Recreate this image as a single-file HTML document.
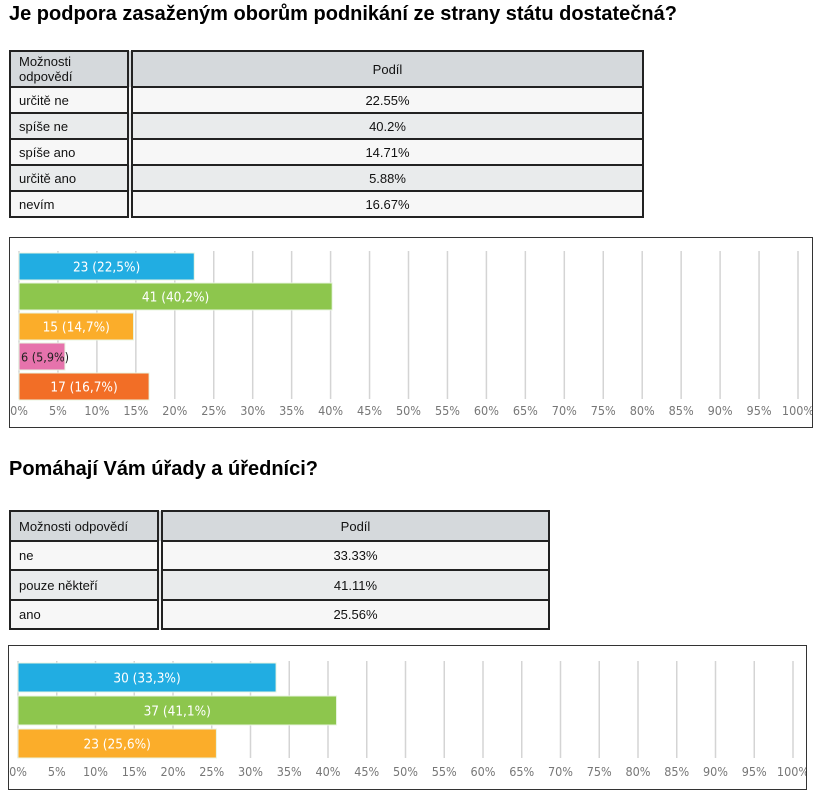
<!DOCTYPE html>
<html><head><meta charset="utf-8"><style>
body{margin:0;width:826px;height:805px;background:#fff;font-family:"Liberation Sans",sans-serif;position:relative;overflow:hidden}
.t{position:absolute;left:9px;font-weight:bold;font-size:20px;color:#000;margin:0}
table{position:absolute;border-collapse:collapse;font-size:13px;color:#111}
td{border:2px solid #222;padding:0 8px}
td.c{text-align:center}
tr.h td{background:#d5d9dc}
tr.a td{background:#f7f7f7}
tr.b td{background:#e9ebec}
td.f{border-right:6px double #222}
.box{position:absolute;border:1.5px solid #333;background:#fff}
svg text{font-family:"DejaVu Sans Condensed","DejaVu Sans",sans-serif}
</style></head><body>
<h1 class="t" style="top:3px">Je podpora zasaženým oborům podnikání ze strany státu dostatečná?</h1>
<table style="left:9px;top:50px;width:635px">
<tr class="h" style="height:36px"><td class="f" style="width:100px;line-height:15px">Možnosti<br>odpovědí</td><td class="c">Podíl</td></tr>
<tr class="a" style="height:26px"><td class="f">určitě ne</td><td class="c">22.55%</td></tr>
<tr class="b" style="height:26px"><td class="f">spíše ne</td><td class="c">40.2%</td></tr>
<tr class="a" style="height:26px"><td class="f">spíše ano</td><td class="c">14.71%</td></tr>
<tr class="b" style="height:26px"><td class="f">určitě ano</td><td class="c">5.88%</td></tr>
<tr class="a" style="height:26px"><td class="f">nevím</td><td class="c">16.67%</td></tr>
</table>
<div class="box" style="left:9px;top:237px;width:802px;height:189px"><svg id="c1" width="802" height="189"></svg></div>
<h1 class="t" style="top:458px">Pomáhají Vám úřady a úředníci?</h1>
<table style="left:9px;top:510px;width:541px">
<tr class="h" style="height:30px"><td class="f" style="width:130px">Možnosti odpovědí</td><td class="c">Podíl</td></tr>
<tr class="a" style="height:29px"><td class="f">ne</td><td class="c">33.33%</td></tr>
<tr class="b" style="height:30px"><td class="f">pouze někteří</td><td class="c">41.11%</td></tr>
<tr class="a" style="height:29px"><td class="f">ano</td><td class="c">25.56%</td></tr>
</table>
<div class="box" style="left:8px;top:645px;width:797px;height:143px"><svg id="c2" width="797" height="143"></svg></div>
<script>
const counts1=[23,41,15,6,17];
const pct1=[22.5,40.2,14.7,5.9,16.7];
const colors1=["#21ade2","#8dc64d","#fbad2a","#e673ac","#f26e26"];
const counts2=[30,37,23];
const pct2=[33.3,41.1,25.6];
const colors2=["#21ade2","#8dc64d","#fbad2a"];
const ticks=[0,5,10,15,20,25,30,35,40,45,50,55,60,65,70,75,80,85,90,95,100];
const NS="http://www.w3.org/2000/svg";
function mk(svg,tag,a){const e=document.createElementNS(NS,tag);for(const k in a)e.setAttribute(k,a[k]);svg.appendChild(e);return e;}
function draw(id,counts,pct,colors,x0,x100,top,bh,step,gridBot,labY,darkIdx){
  const svg=document.getElementById(id);
  const xs=v=>x0+(x100-x0)*v/100;
  ticks.forEach(t=>{
    const g=mk(svg,'line',{x1:xs(t),x2:xs(t),y1:top-2,y2:gridBot,stroke:'#d4d4d4','stroke-width':1.5});
    
    
    const tx=mk(svg,'text',{x:xs(t),y:labY,'font-size':12.5,fill:'#777','text-anchor':'middle'});
    tx.textContent=t+'%';
    
    
  });
  counts.forEach((c,i)=>{
    const y=top+i*step;
    const r=mk(svg,'rect',{x:x0,y:y,width:xs(pct[i])-x0,height:bh,fill:colors[i],stroke:'#e8f4e0','stroke-width':1});
    
    
    const dark=i===darkIdx;
    const t=mk(svg,'text',{x:dark?x0+2:(x0+xs(pct[i]))/2,y:y+bh/2+5,'font-size':dark?12.5:13.5,fill:dark?'#222':'#fff','text-anchor':dark?'start':'middle'});
    t.textContent=c+' ('+String(pct[i]).replace('.',',')+'%)';
    
    
  });
}
draw('c1',counts1,pct1,colors1,9,788,15,27,30,161,177,3);
draw('c2',counts2,pct2,colors2,9,784,17,29,33,112,130,-1);
</script>
</body></html>
